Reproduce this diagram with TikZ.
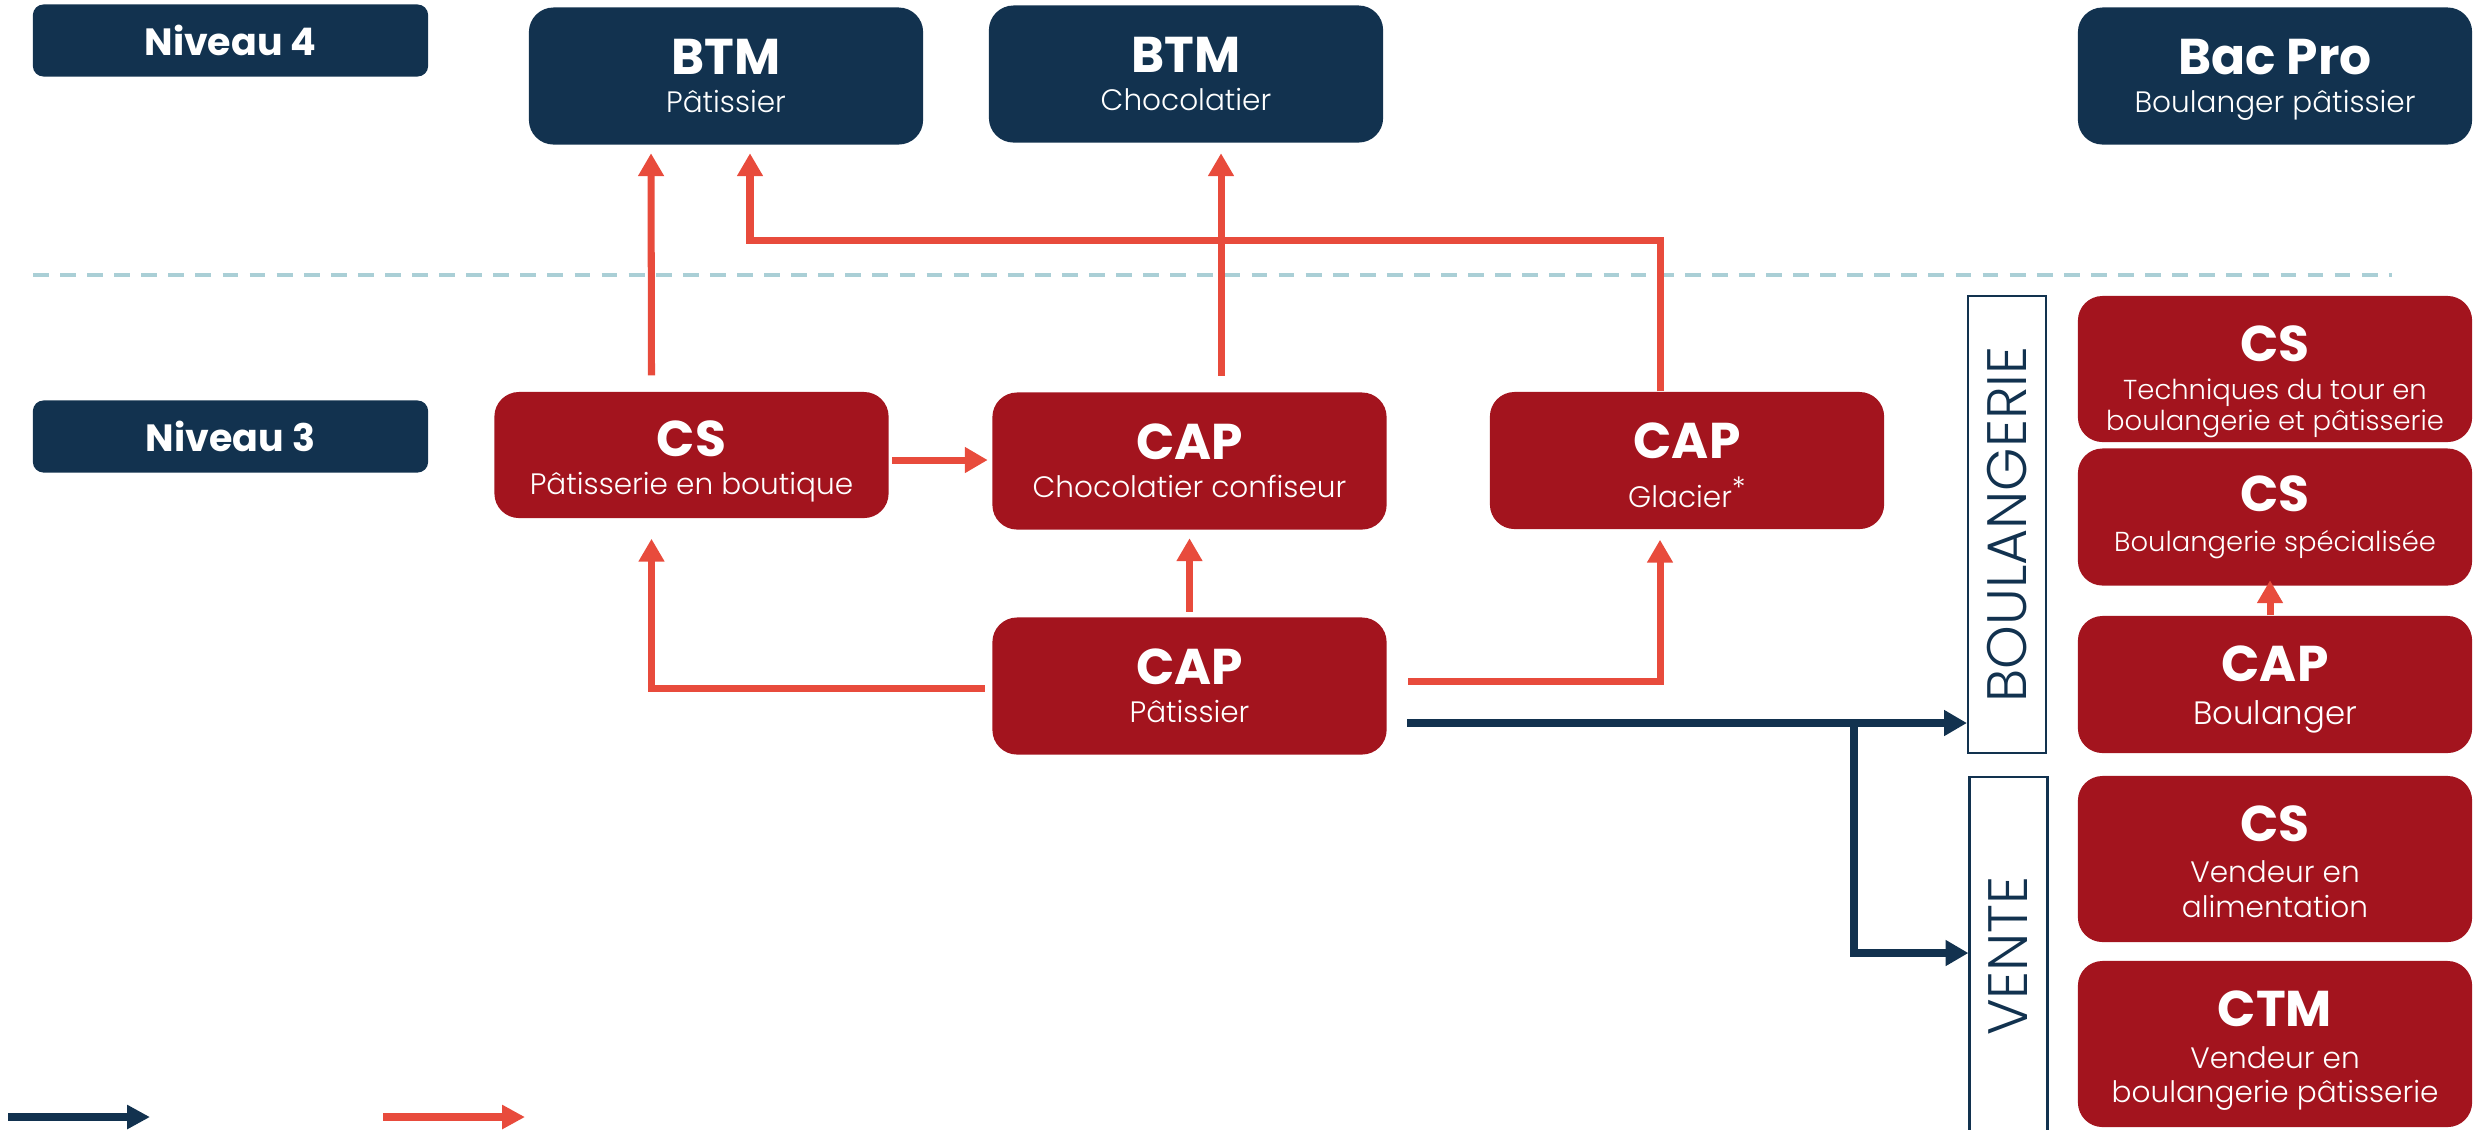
\documentclass[tikz,border=0pt]{standalone}
\usepackage{graphicx}
\usepackage{fontspec}
\setmainfont{Poppins}
\newfontfamily\leger{Poppins Light}
\usetikzlibrary{arrows.meta,calc}
\definecolor{marine}{HTML}{12324F}
\definecolor{bordeaux}{HTML}{A3141E}
\definecolor{corail}{HTML}{E84B3C}
\definecolor{pointille}{HTML}{AACFD6}
\tikzset{
    >={Triangle[length=6.5pt,width=7pt]},
    cursus/.style={
        x=0.01cm,y=-0.01cm,
        niveau/.append style={fill=marine,text=white,rounded corners=3pt,minimum width=3.95cm,minimum height=0.72cm,font=\fontsize{10.8}{12}\selectfont\bfseries},
        bleu/.append style={fill=marine,text=white,align=center,rounded corners=7pt,minimum width=3.94cm,minimum height=1.37cm,inner sep=0pt,font=\leger\fontsize{8.4}{10.8}\selectfont},
        rouge/.append style={fill=bordeaux,text=white,align=center,rounded corners=7pt,minimum width=3.94cm,minimum height=1.37cm,inner sep=0pt,font=\leger\fontsize{8.4}{10.8}\selectfont},
        etroit/.append style={font=\leger\fontsize{7.8}{8.8}\selectfont},
        vendeur/.append style={font=\leger\fontsize{8.4}{9.8}\selectfont},
        filiere/.append style={draw=marine,line width=0.6pt,fill=white,text=marine,minimum width=0.78cm,inner sep=0pt,font=\leger\fontsize{15.8}{18}\selectfont},
        seuil/.append style={draw=pointille,line width=1.1pt,dash pattern=on 4.5pt off 3.2pt},
        voie/.append style={draw=corail,line width=2pt,->},
        vers/.append style={draw=marine,line width=2.3pt,->},
        legende/.append style={line width=2.3pt,-{Triangle[length=6.5pt,width=6.5pt]}}
    }
}
\newcommand{\titre}[1]{{\fontsize{14.3}{12}\fontspec{Poppins}\bfseries #1}}

\begin{document}
\begin{tikzpicture}[cursus]
    \useasboundingbox (0,0) rectangle (2476,1129);
    \node[niveau] (n4) at (230.5,40.5) {Niveau 4};
    \node[niveau] (n3) at (230.5,436.5) {Niveau 3};
    \draw[seuil] (33,275) -- (2392,275);
    \node[bleu] (btmp) at (726,76) {\titre{BTM}\\Pâtissier};
    \node[bleu] (btmc) at (1186,74) {\titre{BTM}\\Chocolatier};
    \node[bleu] (bac) at (2275,76) {\titre{Bac Pro}\rule{0pt}{12pt}\\Boulanger pâtissier};
    \node[rouge,minimum height=1.26cm] (csp) at (691.5,455) {\titre{CS}\rule{0pt}{14pt}\\Pâtisserie en boutique};
    \node[rouge] (capc) at (1189.5,461) {\titre{CAP}\\Chocolatier confiseur};
    \node[rouge] (capg) at (1687,460.5) {\titre{CAP}\rule{0pt}{13pt}\\[3pt]Glacier\raisebox{2.5pt}{*}};
    \node[rouge] (capp) at (1189.5,686) {\titre{CAP}\\Pâtissier};
    \node[filiere,minimum height=4.57cm] (boul) at (2007,524.5) {\rotatebox{90}{BOULANGERIE}};
    \node[filiere,minimum height=3.58cm] (vente) at (2008.5,956) {\rotatebox{90}{VENTE}};
    \node[rouge,etroit,minimum height=1.46cm] (cstour) at (2275,369) {\titre{CS}\rule{0pt}{17.5pt}\\[2pt]Techniques du tour en\\boulangerie et pâtisserie};
    \node[rouge,etroit] (csboul) at (2275,517) {\titre{CS}\\[2.5pt]Boulangerie spécialisée};
    \node[rouge] (capb) at (2275,684.5) {\titre{CAP}\rule{0pt}{13pt}\\[1.2pt]{\fontsize{9.2}{12}\selectfont Boulanger}};
    \node[rouge,vendeur,minimum height=1.66cm] (csvend) at (2275,859) {\titre{CS}\rule{0pt}{11.5pt}\\[2pt]Vendeur en\\alimentation};
    \node[rouge,vendeur,minimum height=1.66cm] (ctm) at (2275,1044) {\titre{CTM}\rule{0pt}{14pt}\\[2pt]Vendeur en\\boulangerie pâtisserie};
    \draw[voie] ($(csp.north)+(-40,-16)$) -- ($(btmp.south)+(-75,8)$);
    \draw[voie] ($(capg.north)+(-27,0)$) |- ($(btmp.south)+(24,95)$) -- ($(btmp.south)+(24,8)$);
    \draw[voie] ($(capc.north)+(31.5,-16)$) -- ($(btmc.south)+(35,10)$);
    \draw[voie] ($(csp.east)+(3,5)$) -- ($(capc.west)+(-4,-1)$);
    \draw[voie] ($(capp.west)+(-7,2)$) -| ($(csp.south)+(-40,20)$);
    \draw[voie] ($(capp.north)+(0,-5)$) -- ($(capc.south)+(0,8)$);
    \draw[voie] ($(capp.east)+(21,-5)$) -| ($(capg.south)+(-27,10)$);
    \draw[voie] ($(capb.north)+(-5,0)$) -- ($(csboul.south)+(-5,-6)$);
    \coordinate (depart) at ($(capp.east)+(20,37)$);
    \coordinate (fourche) at (1854,723);
    \draw[vers] (depart) -- (depart -| boul.west);
    \draw[vers] (fourche) |- ($(vente.west)+(0,-3)$);
    \coordinate (lega) at (8,1117);
    \coordinate (legb) at (150,1117);
    \coordinate (legc) at (383,1117);
    \coordinate (legd) at (525,1117);
    \draw[legende,marine] (lega) -- (legb);
    \draw[legende,corail] (legc) -- (legd);
\end{tikzpicture}
\end{document}
